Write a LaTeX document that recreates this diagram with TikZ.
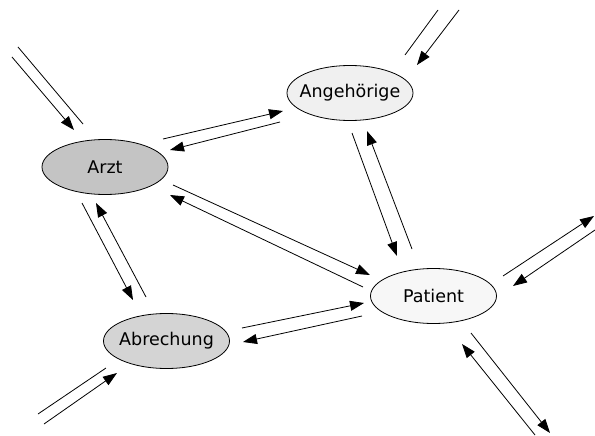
\documentclass[tikz,border=0pt]{standalone}
\usepackage{fontspec}
\setmainfont{DejaVu Sans}
\usetikzlibrary{arrows.meta,shapes.geometric}
\newcommand{\zlabel}[1]{\makebox[0pt]{\rule{0pt}{1.2ex}#1}}
\begin{document}
\begin{tikzpicture}[x=1pt,y=-1pt,
  ent/.style={ellipse,draw,line width=0.8pt,minimum width=126pt,minimum height=55pt,inner sep=0pt,font=\fontsize{17.5}{20}\selectfont},
  flow/.style={line width=0.8pt},
  aflow/.style={line width=0.8pt,-{Triangle[length=14pt,width=10pt]}}]
\useasboundingbox (0,0) rectangle (595,436);
\node[ent,fill=black!23] (arzt) at (105,167) {\zlabel{Arzt}};
\node[ent,fill=black!6] (ang) at (350,93) {\zlabel{Angehörige}};
\node[ent,fill=black!3] (pat) at (433.5,296) {\zlabel{Patient}};
\node[ent,fill=black!17] (abr) at (166.5,341) {\zlabel{Abrechung}};
% external ends
\coordinate (a1s) at (18,47);  \coordinate (a1e) at (83,124);
\coordinate (a2s) at (12,57);  \coordinate (a2e) at (74,130);
\draw[flow] (a1s) -- (a1e);
\draw[aflow] (a2s) -- (a2e);
\coordinate (g1s) at (438,10); \coordinate (g1e) at (405,55);
\coordinate (g2s) at (459,10); \coordinate (g2e) at (417,65);
\draw[flow] (g1s) -- (g1e);
\draw[aflow] (g2s) -- (g2e);
\coordinate (b1s) at (38,414); \coordinate (b1e) at (106,368);
\coordinate (b2s) at (44,424); \coordinate (b2e) at (117,373);
\draw[flow] (b1s) -- (b1e);
\draw[aflow] (b2s) -- (b2e);
\coordinate (p1s) at (503,276); \coordinate (p1e) at (594,216);
\coordinate (p2s) at (595,230); \coordinate (p2e) at (513,286);
\draw[aflow] (p1s) -- (p1e);
\draw[aflow] (p2s) -- (p2e);
\coordinate (q1s) at (471,333); \coordinate (q1e) at (550,433);
\coordinate (q2s) at (535,435); \coordinate (q2e) at (462,344);
\draw[aflow] (q1s) -- (q1e);
\draw[aflow] (q2s) -- (q2e);
% between nodes
\coordinate (ag1s) at (163,139); \coordinate (ag1e) at (283,111);
\coordinate (ag2s) at (280,122); \coordinate (ag2e) at (170,150);
\draw[aflow] (ag1s) -- (ag1e);
\draw[aflow] (ag2s) -- (ag2e);
\coordinate (gp1s) at (352,133); \coordinate (gp1e) at (397,256);
\coordinate (gp2s) at (412,249); \coordinate (gp2e) at (367,131);
\draw[aflow] (gp1s) -- (gp1e);
\draw[aflow] (gp2s) -- (gp2e);
\coordinate (ap1s) at (173,185); \coordinate (ap1e) at (370,275);
\coordinate (ap2s) at (363,287); \coordinate (ap2e) at (170,195);
\draw[aflow] (ap1s) -- (ap1e);
\draw[aflow] (ap2s) -- (ap2e);
\coordinate (ab1s) at (82,203); \coordinate (ab1e) at (133,300);
\coordinate (ab2s) at (146,297); \coordinate (ab2e) at (96,203);
\draw[aflow] (ab1s) -- (ab1e);
\draw[aflow] (ab2s) -- (ab2e);
\coordinate (bp1s) at (242,328); \coordinate (bp1e) at (364,303);
\coordinate (bp2s) at (362,316); \coordinate (bp2e) at (243,342);
\draw[aflow] (bp1s) -- (bp1e);
\draw[aflow] (bp2s) -- (bp2e);
\end{tikzpicture}
\end{document}
